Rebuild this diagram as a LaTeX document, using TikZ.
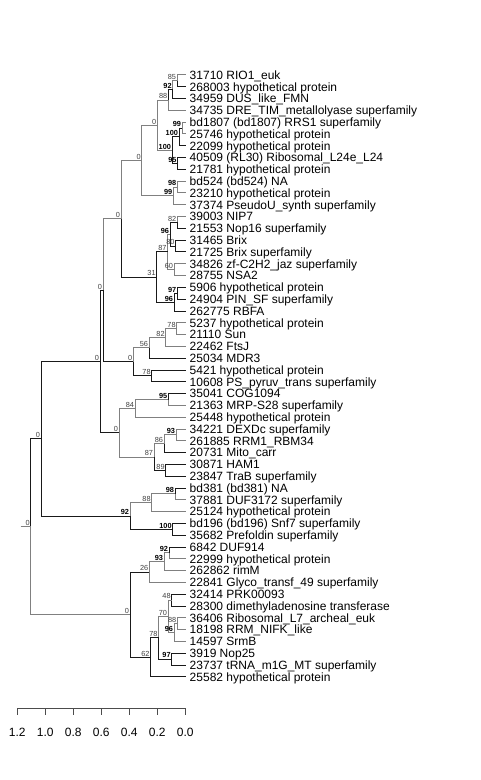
\documentclass[tikz,border=0pt]{standalone}
\usepackage{fontspec}
\setmainfont{Liberation Sans}
\begin{document}
\begin{tikzpicture}[
    x=0.75pt,
    y=-0.75pt,
    leaf/.style={
        anchor=west,
        inner xsep=2.6pt,
        inner ysep=0pt,
        text height=6.4pt,
        text depth=0pt,
        font=\fontsize{9}{10}\selectfont
    },
    bs/.style={
        anchor=south east,
        inner sep=0.6pt,
        font=\fontsize{5.5}{6}\selectfont,
        text=black!75
    },
    bsb/.style={
        bs,
        font=\fontsize{5.5}{6}\selectfont\bfseries,
        text=black
    },
    branch/.style={
        draw=black!90,
        line width=0.75pt
    },
    pale/.style={
        draw=black!50,
        line width=0.75pt
    },
    axis/.style={
        draw=black!70,
        line width=0.75pt
    }
]
\useasboundingbox (0,0) rectangle (480,780);

% leaves
\node[leaf] (L1)  at (186,75.0)  {31710 RIO1\_euk};
\node[leaf] (L2)  at (186,86.8)  {268003 hypothetical protein};
\node[leaf] (L3)  at (186,98.6)  {34959 DUS\_like\_FMN};
\node[leaf] (L4)  at (186,110.4) {34735 DRE\_TIM\_metallolyase superfamily};
\node[leaf] (L5)  at (186,122.2) {bd1807 (bd1807) RRS1 superfamily};
\node[leaf] (L6)  at (186,134.0) {25746 hypothetical protein};
\node[leaf] (L7)  at (186,145.8) {22099 hypothetical protein};
\node[leaf] (L8)  at (186,157.6) {40509 (RL30) Ribosomal\_L24e\_L24};
\node[leaf] (L9)  at (186,169.4) {21781 hypothetical protein};
\node[leaf] (L10) at (186,181.2) {bd524 (bd524) NA};
\node[leaf] (L11) at (186,193.0) {23210 hypothetical protein};
\node[leaf] (L12) at (186,204.8) {37374 PseudoU\_synth superfamily};
\node[leaf] (L13) at (186,216.6) {39003 NIP7};
\node[leaf] (L14) at (186,228.4) {21553 Nop16 superfamily};
\node[leaf] (L15) at (186,240.2) {31465 Brix};
\node[leaf] (L16) at (186,252.0) {21725 Brix superfamily};
\node[leaf] (L17) at (186,263.8) {34826 zf-C2H2\_jaz superfamily};
\node[leaf] (L18) at (186,275.6) {28755 NSA2};
\node[leaf] (L19) at (186,287.4) {5906 hypothetical protein};
\node[leaf] (L20) at (186,299.2) {24904 PIN\_SF superfamily};
\node[leaf] (L21) at (186,311.0) {262775 RBFA};
\node[leaf] (L22) at (186,322.8) {5237 hypothetical protein};
\node[leaf] (L23) at (186,334.6) {21110 Sun};
\node[leaf] (L24) at (186,346.4) {22462 FtsJ};
\node[leaf] (L25) at (186,358.2) {25034 MDR3};
\node[leaf] (L26) at (186,370.0) {5421 hypothetical protein};
\node[leaf] (L27) at (186,381.8) {10608 PS\_pyruv\_trans superfamily};
\node[leaf] (L28) at (186,393.6) {35041 COG1094};
\node[leaf] (L29) at (186,405.4) {21363 MRP-S28 superfamily};
\node[leaf] (L30) at (186,417.2) {25448 hypothetical protein};
\node[leaf] (L31) at (186,429.0) {34221 DEXDc superfamily};
\node[leaf] (L32) at (186,440.8) {261885 RRM1\_RBM34};
\node[leaf] (L33) at (186,452.6) {20731 Mito\_carr};
\node[leaf] (L34) at (186,464.4) {30871 HAM1};
\node[leaf] (L35) at (186,476.2) {23847 TraB superfamily};
\node[leaf] (L36) at (186,488.0) {bd381 (bd381) NA};
\node[leaf] (L37) at (186,499.8) {37881 DUF3172 superfamily};
\node[leaf] (L38) at (186,511.6) {25124 hypothetical protein};
\node[leaf] (L39) at (186,523.4) {bd196 (bd196) Snf7 superfamily};
\node[leaf] (L40) at (186,535.2) {35682 Prefoldin superfamily};
\node[leaf] (L41) at (186,547.0) {6842 DUF914};
\node[leaf] (L42) at (186,558.8) {22999 hypothetical protein};
\node[leaf] (L43) at (186,570.6) {262862 rimM};
\node[leaf] (L44) at (186,582.4) {22841 Glyco\_transf\_49 superfamily};
\node[leaf] (L45) at (186,594.2) {32414 PRK00093};
\node[leaf] (L46) at (186,606.0) {28300 dimethyladenosine transferase};
\node[leaf] (L47) at (186,617.8) {36406 Ribosomal\_L7\_archeal\_euk};
\node[leaf] (L48) at (186,629.6) {18198 RRM\_NIFK\_like};
\node[leaf] (L49) at (186,641.4) {14597 SrmB};
\node[leaf] (L50) at (186,653.2) {3919 Nop25};
\node[leaf] (L51) at (186,665.0) {23737 tRNA\_m1G\_MT superfamily};
\node[leaf] (L52) at (186,676.8) {25582 hypothetical protein};

% internal nodes
\coordinate (n1)  at (177.0,80.9);
\coordinate (n2)  at (172.7,89.75);
\coordinate (n3)  at (168.3,100.1);
\coordinate (n4)  at (182.0,128.1);
\coordinate (n5)  at (179.0,136.95);
\coordinate (n6)  at (177.5,163.5);
\coordinate (n7)  at (172.0,150.2);
\coordinate (n8)  at (157.3,125.15);
\coordinate (n9)  at (177.3,187.1);
\coordinate (n10) at (173.3,195.95);
\coordinate (n11) at (141.7,160.55);
\coordinate (n12) at (177.3,222.5);
\coordinate (n13) at (175.5,246.1);
\coordinate (n14) at (170.0,234.3);
\coordinate (n15) at (174.0,269.7);
\coordinate (n16) at (167.5,252.0);
\coordinate (n17) at (177.3,293.3);
\coordinate (n18) at (174.0,302.15);
\coordinate (n19) at (156.7,277.1);
\coordinate (n20) at (121.0,218.8);
\coordinate (n21) at (176.7,328.7);
\coordinate (n22) at (165.7,337.55);
\coordinate (n23) at (149.0,347.9);
\coordinate (n24) at (151.7,375.9);
\coordinate (n25) at (133.3,361.9);
\coordinate (n26) at (103.0,290.35);
\coordinate (n27) at (168.3,399.5);
\coordinate (n28) at (135.0,408.35);
\coordinate (n29) at (176.0,434.9);
\coordinate (n30) at (164.0,443.75);
\coordinate (n31) at (165.7,470.3);
\coordinate (n32) at (154.0,457.0);
\coordinate (n33) at (119.0,432.7);
\coordinate (n34) at (100.0,361.5);
\coordinate (n35) at (175.0,493.9);
\coordinate (n36) at (151.7,502.75);
\coordinate (n37) at (172.7,529.3);
\coordinate (n38) at (130.0,516.0);
\coordinate (n39) at (41.0,438.75);
\coordinate (n40) at (169.0,552.9);
\coordinate (n41) at (164.0,561.75);
\coordinate (n42) at (149.3,572.1);
\coordinate (n43) at (171.7,600.1);
\coordinate (n44) at (177.3,623.7);
\coordinate (n45) at (174.0,632.55);
\coordinate (n46) at (168.0,616.3);
\coordinate (n47) at (171.7,659.1);
\coordinate (n48) at (158.5,637.7);
\coordinate (n49) at (150.5,657.25);
\coordinate (n50) at (130.0,614.7);
\coordinate (root) at (30.7,526.7);
\coordinate (stub) at (20.7,526.7);

% branches
\draw[pale]   (n1) |- (L1.west);
\draw[branch] (n1) |- (L2.west);
\draw[pale]   (n2) |- (n1);
\draw[branch] (n2) |- (L3.west);
\draw[branch] (n3) |- (n2);
\draw[pale]   (n3) |- (L4.west);
\draw[pale]   (n4) |- (L5.west);
\draw[pale]   (n4) |- (L6.west);
\draw[branch] (n5) |- (n4);
\draw[branch] (n5) |- (L7.west);
\draw[branch] (n6) |- (L8.west);
\draw[branch] (n6) |- (L9.west);
\draw[branch] (n7) |- (n5);
\draw[branch] (n7) |- (n6);
\draw[pale]   (n8) |- (n3);
\draw[pale]   (n8) |- (n7);
\draw[pale]   (n9) |- (L10.west);
\draw[pale]   (n9) |- (L11.west);
\draw[pale]   (n10) |- (n9);
\draw[pale]   (n10) |- (L12.west);
\draw[pale]   (n11) |- (n8);
\draw[pale]   (n11) |- (n10);
\draw[pale]   (n12) |- (L13.west);
\draw[branch] (n12) |- (L14.west);
\draw[branch] (n13) |- (L15.west);
\draw[branch] (n13) |- (L16.west);
\draw[branch] (n14) |- (n12);
\draw[branch] (n14) |- (n13);
\draw[pale]   (n15) |- (L17.west);
\draw[pale]   (n15) |- (L18.west);
\draw[pale]   (n16) |- (n14);
\draw[pale]   (n16) |- (n15);
\draw[branch] (n17) |- (L19.west);
\draw[branch] (n17) |- (L20.west);
\draw[branch] (n18) |- (n17);
\draw[branch] (n18) |- (L21.west);
\draw[branch] (n19) |- (n16);
\draw[branch] (n19) |- (n18);
\draw[pale]   (n20) |- (n11);
\draw[branch] (n20) |- (n19);
\draw[pale]   (n21) |- (L22.west);
\draw[pale]   (n21) |- (L23.west);
\draw[pale]   (n22) |- (n21);
\draw[pale]   (n22) |- (L24.west);
\draw[pale]   (n23) |- (n22);
\draw[branch] (n23) |- (L25.west);
\draw[branch] (n24) |- (L26.west);
\draw[branch] (n24) |- (L27.west);
\draw[pale]   (n25) |- (n23);
\draw[branch] (n25) |- (n24);
\draw[pale]   (n26) |- (n20);
\draw[branch] (n26) |- (n25);
\draw[branch] (n27) |- (L28.west);
\draw[pale]   (n27) |- (L29.west);
\draw[pale]   (n28) |- (n27);
\draw[pale]   (n28) |- (L30.west);
\draw[pale]   (n29) |- (L31.west);
\draw[pale]   (n29) |- (L32.west);
\draw[pale]   (n30) |- (n29);
\draw[branch] (n30) |- (L33.west);
\draw[branch] (n31) |- (L34.west);
\draw[branch] (n31) |- (L35.west);
\draw[pale]   (n32) |- (n30);
\draw[branch] (n32) |- (n31);
\draw[pale]   (n33) |- (n28);
\draw[pale]   (n33) |- (n32);
\draw[branch] (n34) |- (n26);
\draw[branch] (n34) |- (n33);
\draw[branch] (n35) |- (L36.west);
\draw[pale]   (n35) |- (L37.west);
\draw[pale]   (n36) |- (n35);
\draw[pale]   (n36) |- (L38.west);
\draw[branch] (n37) |- (L39.west);
\draw[branch] (n37) |- (L40.west);
\draw[pale]   (n38) |- (n36);
\draw[branch] (n38) |- (n37);
\draw[branch] (n39) |- (n34);
\draw[branch] (n39) |- (n38);
\draw[branch] (n40) |- (L41.west);
\draw[pale]   (n40) |- (L42.west);
\draw[pale]   (n41) |- (n40);
\draw[pale]   (n41) |- (L43.west);
\draw[pale]   (n42) |- (n41);
\draw[pale]   (n42) |- (L44.west);
\draw[branch] (n43) |- (L45.west);
\draw[branch] (n43) |- (L46.west);
\draw[pale]   (n44) |- (L47.west);
\draw[pale]   (n44) |- (L48.west);
\draw[pale]   (n45) |- (n44);
\draw[pale]   (n45) |- (L49.west);
\draw[pale]   (n46) |- (n43);
\draw[pale]   (n46) |- (n45);
\draw[branch] (n47) |- (L50.west);
\draw[branch] (n47) |- (L51.west);
\draw[pale]   (n48) |- (n46);
\draw[branch] (n48) |- (n47);
\draw[branch] (n49) |- (n48);
\draw[branch] (n49) |- (L52.west);
\draw[branch] (n50) |- (n42);
\draw[branch] (n50) |- (n49);
\draw[branch] (root) |- (n39);
\draw[pale]   (root) |- (n50);
\draw[pale]   (stub) -- (root);

% support values
\node[bs]  (s1)  at (n1)  {85};
\node[bsb] (s2)  at (n2)  {92};
\node[bs]  (s3)  at (n3)  {88};
\node[bsb] (s4)  at (n4)  {99};
\node[bsb] (s5)  at (n5)  {100};
\node[bsb] (s6)  at (n6)  {95};
\node[bsb] (s7)  at (n7)  {100};
\node[bs]  (s8)  at (n8)  {0};
\node[bsb] (s9)  at (n9)  {98};
\node[bsb] (s10) at (n10) {99};
\node[bs]  (s11) at (n11) {0};
\node[bs]  (s12) at (n12) {82};
\node[bs]  (s13) at (n13) {80};
\node[bsb] (s14) at (n14) {96};
\node[bs]  (s15) at (n15) {60};
\node[bs]  (s16) at (n16) {87};
\node[bsb] (s17) at (n17) {97};
\node[bsb] (s18) at (n18) {96};
\node[bs]  (s19) at (n19) {31};
\node[bs]  (s20) at (n20) {0};
\node[bs]  (s21) at (n21) {78};
\node[bs]  (s22) at (n22) {82};
\node[bs]  (s23) at (n23) {56};
\node[bs]  (s24) at (n24) {78};
\node[bs]  (s25) at (n25) {0};
\node[bs]  (s26) at (n26) {0};
\node[bsb] (s27) at (n27) {95};
\node[bs]  (s28) at (n28) {84};
\node[bsb] (s29) at (n29) {93};
\node[bs]  (s30) at (n30) {86};
\node[bs]  (s31) at (n31) {89};
\node[bs]  (s32) at (n32) {87};
\node[bs]  (s33) at (n33) {0};
\node[bs]  (s34) at (n34) {0};
\node[bsb] (s35) at (n35) {98};
\node[bs]  (s36) at (n36) {88};
\node[bsb] (s37) at (n37) {100};
\node[bsb] (s38) at (n38) {92};
\node[bs]  (s39) at (n39) {0};
\node[bsb] (s40) at (n40) {92};
\node[bsb] (s41) at (n41) {93};
\node[bs]  (s42) at (n42) {26};
\node[bs]  (s43) at (n43) {48};
\node[bs]  (s44) at (n44) {88};
\node[bsb] (s45) at (n45) {96};
\node[bs]  (s46) at (n46) {70};
\node[bsb] (s47) at (n47) {97};
\node[bs]  (s48) at (n48) {78};
\node[bs]  (s49) at (n49) {62};
\node[bs]  (s50) at (n50) {0};
\node[bs]  (sroot) at (root) {0};

% scale bar
\draw[axis] (17.3,708) -- (185.3,708);
\foreach \v [count=\i] in {1.2,1.0,0.8,0.6,0.4,0.2,0.0} {
    \draw[axis] ({185.3-\v*140},708) -- ++(0,7);
    \node[font=\fontsize{9}{10}\selectfont] (tick\i) at ({185.3-\v*140},732) {\v};
}

\end{tikzpicture}
\end{document}
